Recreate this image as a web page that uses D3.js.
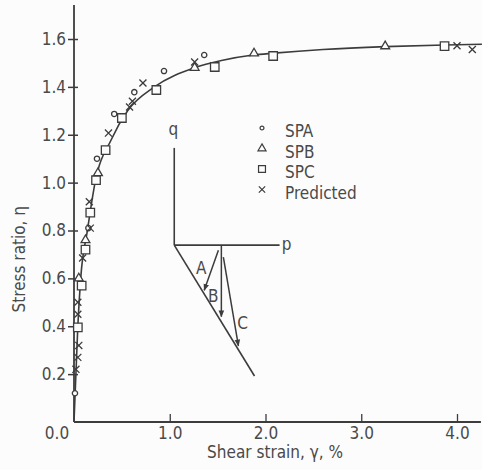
<!DOCTYPE html>
<html>
<head>
<meta charset="utf-8">
<script src="https://cdn.jsdelivr.net/npm/d3@7"></script>
<style>
  body { margin: 0; background: #fcfcfc; }
  svg text { font-family: "DejaVu Sans Condensed", "DejaVu Sans", sans-serif; fill: #4a4a4a; font-size: 17px; }
</style>
</head>
<body>
<script>
// gemiddelde kromme: shear strain (%) tegen stress ratio
const curvePoints = [[0, 0], [0.02, 0.2], [0.04, 0.4], [0.07, 0.6], [0.14, 0.8], [0.22, 1.0], [0.39, 1.18],
  [0.56, 1.30], [0.84, 1.40], [1.26, 1.48], [1.54, 1.51], [1.87, 1.533], [2.09, 1.541], [2.6, 1.556],
  [3.25, 1.568], [3.87, 1.575], [4.26, 1.578]]

// meetpunten per proef
const spa = [[0.01, 0.12], [0.15, 0.81], [0.24, 1.10], [0.42, 1.287], [0.63, 1.378], [0.94, 1.466], [1.36, 1.533]]
const spb = [[0.05, 0.60], [0.12, 0.76], [0.25, 1.04], [1.26, 1.48], [1.88, 1.54], [3.25, 1.57]]
const spc = [[0.04, 0.395], [0.08, 0.57], [0.12, 0.72], [0.17, 0.875], [0.23, 1.01], [0.33, 1.136], [0.50, 1.27],
  [0.86, 1.387], [1.47, 1.483], [2.08, 1.529], [3.87, 1.57]]
const predicted = [[0.02, 0.22], [0.04, 0.27], [0.05, 0.32], [0.04, 0.45], [0.04, 0.50], [0.09, 0.685], [0.17, 0.81],
  [0.16, 0.92], [0.36, 1.207], [0.58, 1.316], [0.61, 1.34], [0.72, 1.416], [1.26, 1.504], [4.0, 1.572], [4.16, 1.556]]

// ticks
const xTicks = [1, 2, 3, 4]
const yTicks = [0.2, 0.4, 0.6, 0.8, 1.0, 1.2, 1.4, 1.6]

// legenda
const legendNames = ['SPA', 'SPB', 'SPC', 'Predicted']

// inzet (p-q diagram), in dezelfde eenheden als de grafiek
const insetQAxis = [[1.047, 1.145], [1.047, 0.739]]
const insetPAxis = [[1.047, 0.739], [2.147, 0.739]]
const insetFailure = [[1.047, 0.739], [1.885, 0.192]]
const insetPaths = [
  {name: 'A', from: [1.508, 0.718], to: [1.36, 0.55], label: [1.33, 0.643]},
  {name: 'B', from: [1.539, 0.739], to: [1.539, 0.44], label: [1.455, 0.526]},
  {name: 'C', from: [1.560, 0.689], to: [1.717, 0.318], label: [1.76, 0.414]}
]
const insetLabels = [{t: 'q', at: [1.037, 1.22]}, {t: 'p', at: [2.22, 0.739]}]

const W = 482
const H = 470
const ink = '#3c3c3c'

const svg = d3.select('body').append('svg')
  .attr('width', W)
  .attr('height', H)

// pijlpunt voor de inzet
svg.append('defs').append('marker')
  .attr('id', 'arrow')
  .attr('viewBox', '0 0 10 10')
  .attr('refX', 9).attr('refY', 5)
  .attr('markerWidth', 7).attr('markerHeight', 7)
  .attr('markerUnits', 'userSpaceOnUse')
  .attr('orient', 'auto')
  .append('path').attr('d', 'M0,1 L10,5 L0,9 Z').attr('fill', ink)

const x = d3.scaleLinear().domain([0, 4]).range([74, 457])
const y = d3.scaleLinear().domain([0, 1.6]).range([422, 39])

// assen
svg.append('line')
  .attr('x1', x(0)).attr('x2', x(0))
  .attr('y1', y(0)).attr('y2', y(1.742))
  .attr('stroke', ink).attr('stroke-width', 1.8)
svg.append('line')
  .attr('x1', x(0)).attr('x2', x(4.25))
  .attr('y1', y(0)).attr('y2', y(0))
  .attr('stroke', ink).attr('stroke-width', 1.8)

const yAxis = svg.append('g')
  .attr('transform', `translate(${x(0)},0)`)
  .call(d3.axisLeft(y).tickValues(yTicks).tickFormat(d3.format('.1f')).tickSizeInner(6).tickSizeOuter(0).tickPadding(2))
yAxis.select('.domain').remove()
yAxis.selectAll('.tick line').attr('x1', 4).attr('stroke', ink).attr('stroke-width', 1.5)
yAxis.selectAll('text').attr('font-size', null).attr('font-family', null).attr('fill', null)

const xAxis = svg.append('g')
  .attr('transform', `translate(0,${y(0)})`)
  .call(d3.axisBottom(x).tickValues(xTicks).tickFormat(d3.format('.1f')).tickSizeInner(-8).tickSizeOuter(0).tickPadding(5))
xAxis.select('.domain').remove()
xAxis.selectAll('.tick line').attr('stroke', ink).attr('stroke-width', 1.3)
xAxis.selectAll('text').attr('font-size', null).attr('font-family', null).attr('fill', null)

// 0.0 in de oorsprong
svg.append('text')
  .attr('x', x(0) - 17).attr('y', y(0) + 17)
  .attr('text-anchor', 'middle')
  .text('0.0')

// as-titels
svg.append('text')
  .attr('transform', `translate(25,${y(0.68)})rotate(-90)`)
  .attr('text-anchor', 'middle')
  .text('Stress ratio, η')
svg.append('text')
  .attr('x', x(2.1)).attr('y', y(0) + 36)
  .attr('text-anchor', 'middle')
  .text('Shear strain, γ, %')

// kromme
svg.append('path')
  .datum(curvePoints)
  .attr('fill', 'none')
  .attr('stroke', ink)
  .attr('stroke-width', 1.6)
  .attr('d', d3.line().x(d => x(d[0])).y(d => y(d[1])).curve(d3.curveMonotoneX))

// symbolen
const shapes = {
  SPA: d3.symbol(d3.symbolCircle, 22),
  SPB: d3.symbol(d3.symbolTriangle, 34),
  SPC: d3.symbol(d3.symbolSquare, 72),
  Predicted: d3.symbol(d3.symbolX, 34)
}
const series = [
  {name: 'SPA', data: spa},
  {name: 'SPB', data: spb},
  {name: 'SPC', data: spc},
  {name: 'Predicted', data: predicted}
]

series.forEach(s => {
  svg.append('g').selectAll('path')
    .data(s.data)
    .join('path')
      .attr('transform', d => `translate(${x(d[0])},${y(d[1])})`)
      .attr('d', shapes[s.name])
      .attr('fill', s.name === 'Predicted' ? 'none' : '#fcfcfc')
      .attr('stroke', ink)
      .attr('stroke-width', 1.3)
})

// legenda
const legend = svg.append('g').selectAll('g')
  .data(legendNames)
  .join('g')
    .attr('transform', (d, i) => `translate(262,${128 + i * 20.5})`)
legend.append('path')
  .attr('d', d => d3.symbol(shapes[d].type(), d === 'SPA' ? 12 : d === 'SPC' ? 48 : 28)())
  .attr('fill', d => d === 'Predicted' ? 'none' : '#fcfcfc')
  .attr('stroke', ink)
  .attr('stroke-width', 1.2)
legend.append('text')
  .attr('x', 23)
  .attr('y', 9)
  .text(d => d)

// inzet tekenen
const lineGen = d3.line().x(d => x(d[0])).y(d => y(d[1]))
;[insetQAxis, insetPAxis, insetFailure].forEach(seg => {
  svg.append('path')
    .attr('d', lineGen(seg))
    .attr('fill', 'none')
    .attr('stroke', ink)
    .attr('stroke-width', 1.6)
})
svg.append('g').selectAll('path')
  .data(insetPaths)
  .join('path')
    .attr('d', d => lineGen([d.from, d.to]))
    .attr('fill', 'none')
    .attr('stroke', ink)
    .attr('stroke-width', 1.5)
    .attr('marker-end', 'url(#arrow)')
svg.append('g').selectAll('text')
  .data(insetPaths)
  .join('text')
    .attr('x', d => x(d.label[0]))
    .attr('y', d => y(d.label[1]))
    .attr('dy', '0.35em')
    .attr('text-anchor', 'middle')
    .text(d => d.name)
svg.append('g').selectAll('text')
  .data(insetLabels)
  .join('text')
    .attr('x', d => x(d.at[0]))
    .attr('y', d => y(d.at[1]))
    .attr('dy', '0.3em')
    .attr('text-anchor', 'middle')
    .text(d => d.t)
</script>
</body>
</html>
